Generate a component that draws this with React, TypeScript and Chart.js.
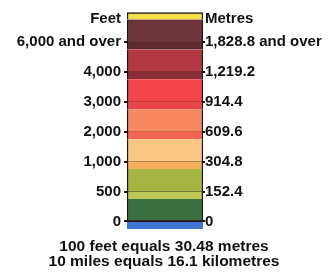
import React, { useEffect, useRef } from "react";
import { Chart, registerables } from "chart.js";

Chart.register(...registerables);

// Scale levels (index positions of the contour lines) and their labels
const tickLevels = [0, 1, 2, 3, 4, 5, 6, 6.78];
const feetLabels = ["0", "500", "1,000", "2,000", "3,000", "4,000", "6,000 and over", "Feet"];
const metreLabels = ["0", "152.4", "304.8", "609.6", "914.4", "1,219.2", "1,828.8 and over", "Metres"];

// Colour bands, bottom to top (thickness in level units)
const bandNames = [
  "sea", "0-500", "500 strip", "500-1000", "1000 strip", "1000-2000", "2000 strip",
  "2000-3000", "3000 strip", "3000-4000", "4000 strip", "4000-6000", "6000 strip", "over 6000", "top",
];
const bandHeights = [-0.25, 0.75, 0.25, 0.75, 0.25, 0.75, 0.25, 0.75, 0.25, 0.75, 0.25, 0.75, 0.22, 0.78, 0.23];
const bandColors = [
  "#3f73d6", "#3b6e3e", "#bcc653", "#a5b443", "#f5ae5c", "#f9c783", "#f26552",
  "#f7875f", "#e8464a", "#f2444a", "#8a2c34", "#b23842", "#5f2a32", "#6d343b", "#f3df47",
];

const footNotes = ["100 feet equals 30.48 metres", "10 miles equals 16.1 kilometres"];

const FONT = "'Liberation Sans', Arial, sans-serif";
const LINE = "#241012";

export default function App() {
  const ref = useRef<HTMLCanvasElement | null>(null);

  useEffect(() => {
    if (!ref.current) return;
    const last = bandNames.length - 1;
    const datasets = bandNames.map((name, i) => ({
      label: name,
      data: [bandHeights[i]],
      backgroundColor: bandColors[i],
      borderColor: "#1a1010",
      borderSkipped: false as const,
      borderWidth: i === 0 ? 0 : { left: 1.5, right: 1.5, top: i === last ? 1.5 : 0, bottom: 0 },
      barPercentage: 1,
      categoryPercentage: 1,
      yAxisID: "y",
    }));

    const gridColor = (ctx: any) => (ctx.tick && ctx.tick.value > 6.5 ? "rgba(0,0,0,0)" : LINE);
    const setTicks = (scale: any) => {
      scale.ticks = tickLevels.map((v) => ({ value: v }));
    };

    const chart = new Chart(ref.current, {
      type: "bar",
      data: { labels: [""], datasets },
      options: {
        animation: false,
        responsive: false,
        maintainAspectRatio: false,
        layout: { padding: { top: 9, left: 0, right: 0, bottom: 0 } },
        plugins: {
          legend: { display: false },
          tooltip: { enabled: false },
          title: {
            display: true,
            position: "bottom",
            text: footNotes,
            color: "#111",
            font: { family: FONT, size: 15.5, weight: "bold", lineHeight: 0.97 },
            padding: { top: 10, bottom: 4 },
          },
        },
        scales: {
          x: { display: false, stacked: true },
          y: {
            type: "linear",
            position: "left",
            stacked: true,
            min: -0.25,
            max: 7.0,
            z: 1,
            afterBuildTicks: setTicks,
            afterFit: (s: any) => { s.width = 127; },
            border: { display: false },
            grid: { color: gridColor, lineWidth: 2, tickLength: 3, drawTicks: true },
            ticks: {
              padding: 3,
              color: "#111",
              font: { family: FONT, size: 15, weight: "bold" },
              callback: (_v: any, i: number) => feetLabels[i],
            },
          },
          y2: {
            type: "linear",
            position: "right",
            min: -0.25,
            max: 7.0,
            z: 1,
            afterBuildTicks: setTicks,
            afterFit: (s: any) => { s.width = 125; },
            border: { display: false },
            grid: { color: gridColor, lineWidth: 2, tickLength: 2, drawOnChartArea: false },
            ticks: {
              padding: 0,
              color: "#111",
              font: { family: FONT, size: 15, weight: "bold" },
              callback: (_v: any, i: number) => metreLabels[i],
            },
          },
        },
      },
    });
    return () => chart.destroy();
  }, []);

  return (
    <div style={{ position: "absolute", left: 0, top: 0, width: 328, height: 273, background: "#fff" }}>
      <canvas ref={ref} width={328} height={273} style={{ width: 328, height: 273 }} />
    </div>
  );
}
